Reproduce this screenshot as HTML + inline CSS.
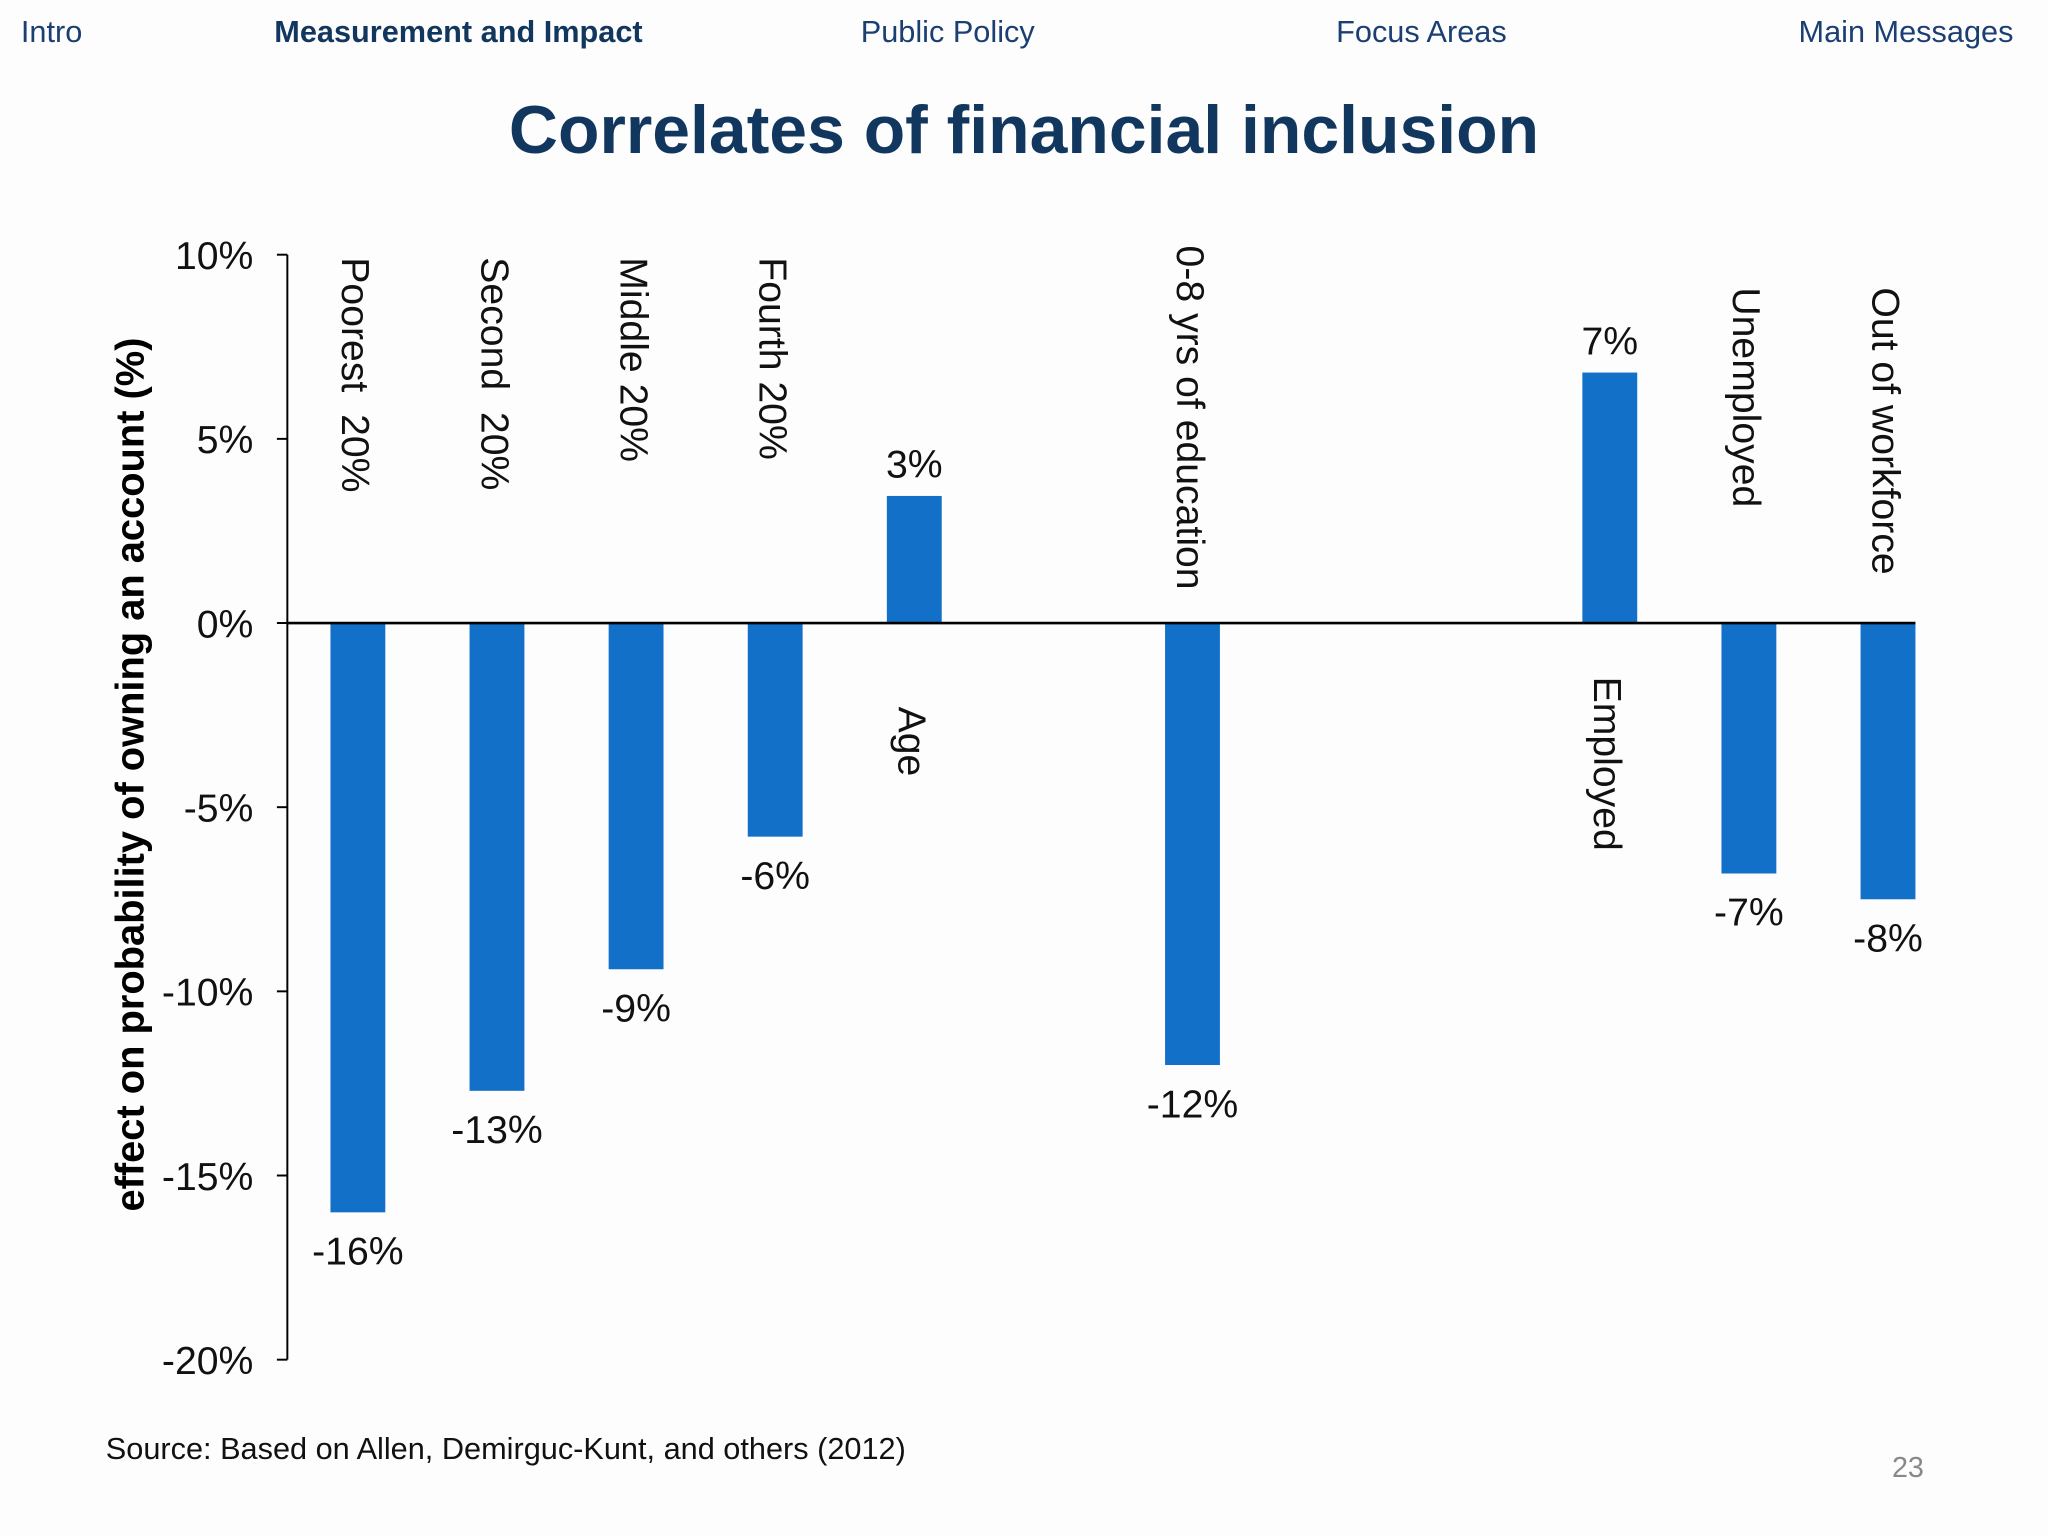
<!DOCTYPE html>
<html><head><meta charset="utf-8"><style>
html,body{margin:0;padding:0;background:#fdfdfd;}
svg{display:block;}
</style></head><body>
<svg width="2048" height="1536" viewBox="0 0 1568 1176" xmlns="http://www.w3.org/2000/svg">
<rect width="1568" height="1176" fill="#fdfdfd"/>
<g font-family="Liberation Sans, sans-serif" font-size="23.5" fill="#1c3f73">
<text x="16" y="32">Intro</text>
<text x="210" y="32" font-weight="bold" fill="#12375f">Measurement and Impact</text>
<text x="659" y="32">Public Policy</text>
<text x="1023" y="32">Focus Areas</text>
<text x="1377" y="32">Main Messages</text>
</g>
<text x="784" y="117" text-anchor="middle" font-family="Liberation Sans, sans-serif" font-weight="bold" font-size="52" fill="#12375f">Correlates of financial inclusion</text>
<g id="chart"></g>
<text x="81" y="1117" font-family="Liberation Sans, sans-serif" font-size="23.5" fill="#111">Source: Based on Allen, Demirguc-Kunt, and others (2012)</text>
<text x="1473" y="1131" text-anchor="end" font-family="Liberation Sans, sans-serif" font-size="22" fill="#888">23</text>
</svg>
<script>
const categories = ["Poorest\u00a0\u00a020%","Second\u00a0\u00a020%","Middle 20%","Fourth 20%","Age","","0-8 yrs of education","","","Employed","Unemployed","Out of workforce"];
const values = [-16.0,-12.7,-9.4,-5.8,3.45,null,-12.0,null,null,6.8,-6.8,-7.5];
const valueLabels = ["-16%","-13%","-9%","-6%","3%","","-12%","","","7%","-7%","-8%"];
const tickValues = [10,5,0,-5,-10,-15,-20];
const tickLabels = ["10%","5%","0%","-5%","-10%","-15%","-20%"];

const NS="http://www.w3.org/2000/svg";
const g=document.getElementById('chart');
const y0=477, pxPer=28.2, xAxis=220, slot0=274, slotW=106.5, barW=42;
const yScale=v=>y0-v*pxPer;
const xScale=i=>slot0+i*slotW;
function mk(tag,attrs,parent){const e=document.createElementNS(NS,tag);for(const k in attrs)e.setAttribute(k,attrs[k]);(parent||g).appendChild(e);return e;}
const F="Liberation Sans, sans-serif";
const FS=30;
const ax=mk('line',{x1:xAxis,x2:xAxis,y1:yScale(10),y2:yScale(-20),stroke:'#000','stroke-width':1.5});


tickValues.forEach((v,i)=>{
 const t=mk('line',{x1:xAxis-8,x2:xAxis,y1:yScale(v),y2:yScale(v),stroke:'#000','stroke-width':1.5});
 
 
 const l=mk('text',{x:xAxis-26,y:yScale(v)+11,'text-anchor':'end','font-family':F,'font-size':FS,fill:'#111'});
 l.textContent=tickLabels[i];
 
 
});
const yt=mk('text',{x:0,y:0,transform:'translate(110,593) rotate(-90)','text-anchor':'middle','font-family':F,'font-size':30.5,'font-weight':'bold',fill:'#000'});
yt.textContent='effect on probability of owning an account (%)';


values.forEach((v,i)=>{
 if(v===null)return;
 const cx=xScale(i);
 const top=Math.min(yScale(v),y0), h=Math.abs(yScale(v)-y0);
 const b=mk('rect',{x:cx-barW/2,y:top,width:barW,height:h,fill:'#1270c8'});
 
 
 const vl=mk('text',{x:cx,y:v<0?yScale(v)+40:yScale(v)-14,'text-anchor':'middle','font-family':F,'font-size':FS,fill:'#111'});
 vl.textContent=valueLabels[i];
 
 
 const cl=mk('text',{x:0,y:0,'font-family':F,'font-size':FS,fill:'#111'});
 let ty;
 if(v<0) ty=(i===10||i===11)?220:197; else ty=(i===4)?541:518;
 if(i===6) ty=188;
 cl.setAttribute('transform','translate('+(cx-12)+','+ty+') rotate(90)');
 cl.textContent=categories[i];
 
 
});
const zl=mk('line',{x1:xAxis,x2:xScale(11)+barW/2,y1:y0,y2:y0,stroke:'#000','stroke-width':2});


</script>
</body></html>
